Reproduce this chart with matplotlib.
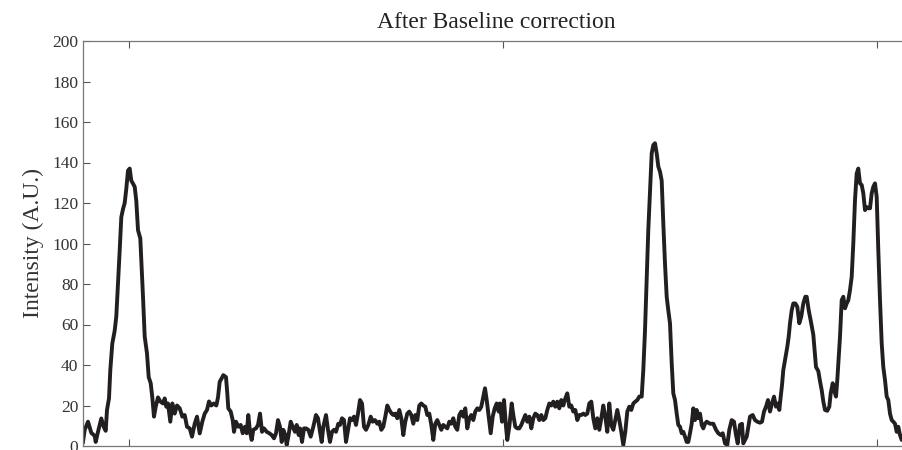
import numpy as np
import matplotlib
matplotlib.use("Agg")
import matplotlib.pyplot as plt

# spectrum after baseline correction (x in channels)
x = [0, 1.7, 5, 8.3, 11.7, 12.7, 15, 18.3, 20.7, 22.7, 24, 26, 27.3, 29.3, 31.7, 33.3, 35, 36.7, 38.3, 40,
     41.7, 43.3, 45, 46.7, 48.3, 50, 51.7, 53.3, 55, 57.3, 58.3, 60, 61.7, 64, 65.7, 67.7, 69.3, 71, 72.7, 75,
     77.3, 80, 81.7, 83.3, 85, 87.3, 89.3, 91.7, 94, 96.7, 99.3, 101.7, 104, 106.7, 109, 111.7, 114, 116.7, 119.3, 121.7,
     124, 126, 128.3, 130.7, 133.3, 135, 136.7, 139.3, 140.3, 143, 144.3, 145.3, 147.7, 149.7, 151, 153, 155.3, 157.7,
     159.7, 162, 163.7, 165.3, 167, 168.7, 170.3, 173, 175, 177, 179, 181, 183.7, 186.3, 188.7, 191, 193, 195,
     197, 198.7, 200.3, 202.3, 203.7, 205.3, 207.7, 209.7, 212, 213.7, 215.7, 217, 219, 221, 223, 225.3, 227.7, 230.3,
     233, 235, 237, 238.7, 240.3, 243, 245, 247, 249, 251, 253, 255.3, 257, 259, 261, 263, 265, 267,
     269, 271, 273, 275, 277, 279, 281, 283, 285.3, 287.7, 289.7, 292, 294.3, 296.3, 298.3, 300.3, 302.3, 304.3,
     306.3, 308.7, 310.3, 312.3, 314.3, 316.3, 318.3, 320.3, 322.3, 324.3, 326.3, 328.3, 330.3, 332.3, 334.3, 336.3, 338.3, 340.3,
     342.3, 344.3, 346.3, 348.3, 350.3, 352.3, 354.3, 356.3, 358.3, 360.3, 362.3, 364.3, 366.3, 368.3, 370.3, 372.3, 374.3, 376.3,
     378.3, 380.3, 382.3, 384.3, 386.3, 388.3, 390.3, 392.3, 394.3, 396.3, 398.3, 400.3, 402, 403.7, 405.7, 407.7, 409.7, 411.7,
     413.7, 415.7, 417, 419, 421, 423, 424.3, 426.3, 428.7, 430.3, 432.3, 434.3, 436.3, 438.3, 440.3, 442.3, 444.3, 446.3,
     448.3, 450.3, 452.3, 454.3, 456.3, 458.3, 460.3, 462.3, 464.3, 466.3, 468.3, 470.3, 472.3, 474.3, 476.3, 478.3, 480.3, 482.3,
     484.3, 486.3, 488.3, 490.3, 492.3, 494.3, 496.3, 498.3, 500.3, 502.3, 504.3, 506.3, 508.3, 510.3, 512.3, 514.3, 516.3, 518.3,
     520.3, 522.3, 524.3, 526.3, 528.3, 530.3, 532.3, 534.3, 536.3, 538.3, 540.3, 542.3, 544.3, 546.3, 548.3, 550.3, 552.3, 554.3,
     556.3, 558.7, 560.3, 562, 563.7, 565.3, 567, 568.7, 570.3, 572, 573.7, 575.3, 577, 578.7, 580.3, 582, 583.7, 585.3,
     587, 588.7, 590.3, 592, 593.7, 595.3, 597, 598.7, 600.3, 602, 603.7, 605.3, 607, 608.7, 610.3, 612, 613.7, 615.3,
     617, 618.7, 620.3, 622, 623.7, 627, 630.3, 633, 635.3, 637.7, 639.7, 642, 644.3, 646.3, 648.7, 651, 653, 654.7,
     657, 659, 660.3, 662, 663.7, 665.3, 667, 669.7, 672, 674.3, 677, 679, 681, 683, 685, 687, 689, 691,
     693, 695, 696.3, 697.7, 699, 700.3, 702.3, 704.3, 705.7, 707, 708.7, 710.3, 712.3, 714.3, 716.3, 718.3, 720.3, 722.3,
     723.7, 725.7, 727.7, 730.3, 732, 733, 735.3, 737, 738.7, 740.3, 742, 744.3, 746.3, 747.7, 749.7, 751, 753, 754.3,
     755.7, 757, 758.7, 760.3, 762, 763.7, 765.3, 767, 768.7, 770.3, 772, 773.7, 775.3, 777, 778.7, 780.3, 782, 783.7,
     785.3, 787, 788.7, 790.3, 792, 793.7, 795.3, 797, 798.7, 800.3, 802, 803.7, 805.3, 807, 808.7, 810.3, 812, 813.7,
     815.3, 817, 818.7, 821]
intensity = [2, 8, 12, 6.5, 5, 2, 7, 13.6, 9.5, 7.5, 17.8, 23.5, 37.5, 50.6, 57, 64, 80, 96.7, 113, 117,
             120, 127, 136, 137, 131, 129.6, 128, 121, 106.6, 102.5, 91.8, 73.7, 54, 45.7, 34, 31, 24, 14.5, 19.4, 24,
             22, 21, 23.5, 19.4, 21, 12, 21, 16, 20, 18.6, 14.5, 15.3, 9.5, 8.7, 4.6, 11, 14.5, 6.2, 12, 16,
             17.8, 22, 20, 21, 20, 24, 31.7, 34, 35, 34, 26, 18.6, 17, 12.8, 7, 12, 9.5, 10.4,
             6.3, 9.5, 6.3, 15.3, 7, 3, 8, 8.7, 10.4, 16, 7, 8.7, 7, 6.3, 5.4, 3.8, 6.3, 12.8,
             9.5, 2, 8, 5.4, 0.5, 4.6, 12, 9.5, 7, 10.4, 5.4, 8.7, 2, 8.7, 8.7, 8, 4.6, 9.5,
             15.3, 13.7, 7, 2, 9.5, 15.3, 8, 2, 7, 8, 7, 11, 10.4, 13.7, 12.8, 2, 8, 13.7,
             12.8, 14.5, 10.4, 16, 22.7, 21, 9.5, 8, 10.4, 14.5, 12, 12.8, 11, 12, 8, 9.5, 14.5, 20,
             17.8, 16, 15.3, 16, 13.7, 17.8, 13.7, 5.4, 12, 16, 17, 15.3, 11, 15.3, 12.8, 20, 21, 20,
             19.4, 15.3, 16, 10.4, 3, 11, 12.8, 10.4, 8, 10.4, 9.5, 8.7, 12, 11, 13.7, 9.5, 8, 15.3,
             17, 14.5, 18.6, 8.7, 13.7, 15.3, 12.8, 17, 18.6, 17.8, 19.4, 24.4, 28.5, 22.7, 14.5, 6.3, 14.5, 18.6,
             21, 17, 21, 12, 22.7, 9.5, 3, 9.5, 21, 15.3, 9.5, 8.7, 8.7, 10.4, 12.8, 15.3, 12, 14.5,
             8.7, 13.7, 16, 15.3, 12.8, 15.3, 12.8, 13.7, 17.8, 21, 20, 21.9, 19.4, 21.9, 18.6, 22.7, 20, 23.5,
             26, 19.4, 20, 17, 17.8, 12.8, 15.3, 15.3, 16, 15.3, 16, 21, 21.9, 13.7, 8.7, 13.7, 8, 13.7,
             20, 14.5, 7, 21, 10.4, 8, 12.8, 17.8, 12.8, 7, 0.5, 7, 17, 19.4, 17.8, 21, 21.9, 22.7,
             24.4, 24.4, 37.5, 57, 82, 106.7, 126, 144.5, 148.6, 149.5, 144.5, 138, 135.5, 131, 110, 90, 73.7, 67,
             60.6, 40.8, 26, 22.7, 16, 10.4, 9.5, 6.3, 7, 4.6, 2, 2, 6.3, 11, 18.6, 12.8, 17.8, 13.7,
             16, 10.4, 8.7, 11, 12, 11, 11, 8, 6.3, 5.4, 6.3, 1.3, 0.5, 8, 12.8, 12, 5.4, 1.3,
             10.4, 11, 1.3, 3, 4.6, 9.5, 14.5, 15.3, 12.8, 12, 11.5, 12, 17, 19.4, 22.7, 17, 21, 24.4,
             19.4, 21, 17.8, 24.4, 30, 37.5, 43.3, 49, 54, 60.6, 67, 70.4, 70.4, 68.8, 60.6, 64, 70.4, 73.7,
             73.7, 67, 62, 55, 45, 39, 37, 32, 27.6, 22, 17.8, 17.4, 19.4, 26, 31, 27.6, 24.4, 32.6,
             44, 54, 72, 73.7, 68, 70.4, 72, 77, 83.6, 100, 121.5, 134.6, 137, 129.7, 128.9, 124.8, 116.5, 118,
             117.4, 117.4, 124.8, 128, 129.7, 123, 96.8, 72, 50.7, 39, 32.6, 24.4, 22.7, 16, 12.8, 12, 11, 7,
             9.5, 5.4, 3, 6]

xticks = [46, 420, 794]
yticks = list(range(0, 201, 20))

plt.rcParams['font.family'] = ['Liberation Serif', 'DejaVu Serif']

fig = plt.figure(figsize=(9.03, 4.5), dpi=100)
ax = fig.add_axes([83 / 903, 4 / 450, 827 / 903, 405 / 450])

ax.plot(x, intensity, color='#231f20', linewidth=2.8, solid_joinstyle='round')

ax.set_xlim(0, 827)
ax.set_ylim(0, 200)
ax.set_xticks(xticks)
ax.set_xticklabels([])
ax.set_yticks(yticks)
ax.tick_params(direction='in', length=5, width=0.8, color='#555555',
               top=True, right=True, labelsize=12.5, labelcolor='#333333', pad=3.5)
for s in ax.spines.values():
    s.set_color('#777777')
    s.set_linewidth(0.9)

ax.set_ylabel('Intensity (A.U.)', fontsize=17, color='#333333', labelpad=6)
ax.set_title('After Baseline correction', fontsize=17, color='#222222', pad=9)

fig.savefig('out.png', dpi=100)
